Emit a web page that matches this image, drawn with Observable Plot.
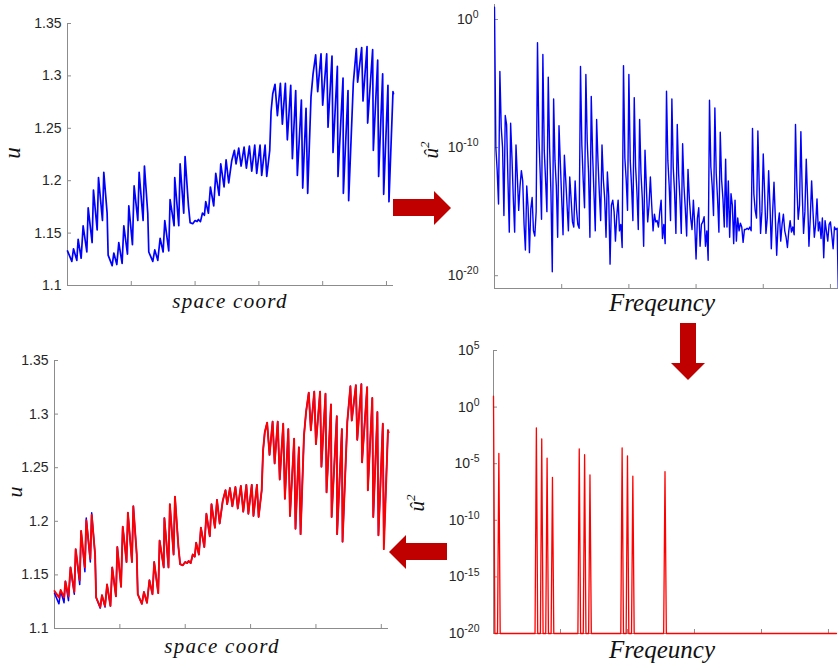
<!DOCTYPE html>
<html>
<head>
<meta charset="utf-8">
<script src="https://cdn.jsdelivr.net/npm/d3@7"></script>
<script src="https://cdn.jsdelivr.net/npm/@observablehq/plot@0.6"></script>
<style>
  html, body { margin: 0; padding: 0; background: #fff; }
  #fig { position: relative; width: 838px; height: 669px; overflow: hidden; background: #fff; }
  #fig > svg { position: absolute; }
  #overlay { pointer-events: none; }
</style>
</head>
<body>
<div id="fig"></div>
<script>
// ---------------- DATA ----------------
// vertices of u(space coord)
const spaceX = [0,6.8,9.4,14.6,16.7,21.4,24.5,30.3,32.4,38.6,40.7,46.5,48.6,54.8,56.9,62.1,63.7,70.0,72.6,77.3,80.4,85.6,88.3,94.0,96.1,101.8,104.4,110.2,112.3,118.5,120.6,125.8,127.4,133.7,136.8,141.5,145.2,149.9,152.5,158.7,160.8,167.1,168.1,174.4,176.5,182.2,184.3,189.6,192.2,196.3,200.0,203.1,205.2,208.4,211.5,214.6,216.7,220.9,224.0,229.2,232.4,237.6,240.2,245.4,248.6,252.7,257.4,261.6,264.2,268.4,272.1,276.8,280.4,285.1,288.8,293.5,296.6,301.8,304.4,309.7,312.3,317.0,319.1,321.7,325.3,329.0,333.7,336.8,341.5,344.6,349.9,352.5,357.7,360.3,366.6,368.7,373.9,376.5,381.7,384.9,389.0,392.2,397.4,400.0,406.3,408.4,414.6,416.2,423.0,424.0,431.9,432.4,439.7,440.7,448.0,452.7,454.8,461.1,463.2,469.5,470.5,478.3,479.4,486.2,487.7,494.0,495.6,502.3,503.9,510.2,511];
const uOriginal = [1.133,1.123,1.135,1.124,1.144,1.126,1.157,1.132,1.174,1.141,1.191,1.153,1.203,1.162,1.208,1.169,1.129,1.119,1.131,1.120,1.141,1.121,1.157,1.130,1.176,1.139,1.195,1.162,1.208,1.162,1.214,1.169,1.132,1.123,1.134,1.124,1.145,1.132,1.162,1.133,1.182,1.157,1.203,1.157,1.216,1.169,1.223,1.176,1.160,1.159,1.162,1.161,1.163,1.161,1.169,1.167,1.180,1.169,1.194,1.176,1.207,1.186,1.216,1.194,1.220,1.198,1.219,1.229,1.216,1.231,1.214,1.232,1.212,1.233,1.209,1.234,1.207,1.234,1.205,1.234,1.204,1.229,1.266,1.283,1.292,1.262,1.293,1.254,1.293,1.239,1.291,1.221,1.286,1.205,1.277,1.193,1.269,1.188,1.280,1.302,1.320,1.285,1.321,1.272,1.321,1.251,1.319,1.227,1.309,1.204,1.298,1.188,1.286,1.181,1.293,1.326,1.294,1.327,1.276,1.328,1.255,1.325,1.229,1.315,1.204,1.302,1.187,1.291,1.180,1.285,1.283];
const uReconstructed = [1.135,1.129,1.136,1.129,1.144,1.130,1.157,1.134,1.174,1.145,1.191,1.157,1.201,1.165,1.206,1.169,1.129,1.120,1.131,1.121,1.141,1.121,1.157,1.130,1.176,1.139,1.195,1.162,1.208,1.162,1.214,1.169,1.132,1.123,1.134,1.124,1.145,1.132,1.162,1.133,1.182,1.157,1.203,1.157,1.216,1.169,1.223,1.176,1.160,1.159,1.162,1.161,1.163,1.161,1.169,1.167,1.180,1.169,1.194,1.176,1.207,1.186,1.216,1.194,1.220,1.198,1.219,1.229,1.216,1.231,1.214,1.232,1.212,1.233,1.209,1.234,1.207,1.234,1.205,1.234,1.204,1.229,1.266,1.283,1.292,1.262,1.293,1.254,1.293,1.239,1.291,1.221,1.286,1.205,1.277,1.193,1.269,1.188,1.280,1.302,1.320,1.285,1.321,1.272,1.321,1.251,1.319,1.227,1.309,1.204,1.298,1.188,1.286,1.181,1.293,1.326,1.294,1.327,1.276,1.328,1.255,1.325,1.229,1.315,1.204,1.302,1.187,1.291,1.174,1.285,1.283];
const uTicks = [1.1, 1.15, 1.2, 1.25, 1.3, 1.35];
const spaceTicks = [100, 200, 300, 400, 500];

// log10 of the power spectrum u-hat^2, frequency 0..256
const spectrumLog10 = [
  0.96,-10,-11.8,-14.4,-4.06,-8.4,-10.0,-15.3,-7.5,-8.2,-12.5,-16.6,-8.1,-10.8,-14.0,-16.6,
  -9.8,-12.3,-14.9,-13.0,-11.8,-12.6,-16.0,-18.0,-13.0,-14.7,-18.2,-14.8,-13.9,-16.5,-16.9,-15.0,
  -1.82,-9.0,-12.0,-15.6,-2.73,-10.2,-12.5,-15.0,-4.5,-10.0,-13.5,-19.7,-6.2,-11.0,-13.0,-17.0,
  -8.3,-11.2,-14.0,-16.8,-10.6,-12.5,-14.5,-16.5,-12.3,-14.0,-15.8,-16.2,-12.6,-14.8,-16.0,-16.3,
  -3.67,-9.8,-12.5,-14.7,-4.3,-9.5,-12.0,-17.0,-6.0,-10.5,-13.5,-16.5,-7.8,-11.0,-13.5,-15.7,
  -9.8,-12.5,-14.0,-17.0,-11.9,-13.8,-19.1,-14.5,-14.1,-15.0,-17.3,-15.3,-14.1,-16.5,-16.0,-17.8,
  -3.6,-10.8,-12.5,-14.9,-4.3,-11.0,-13.0,-15.7,-6.1,-11.5,-13.5,-16.4,-7.8,-12.0,-14.0,-17.7,
  -10.2,-13.0,-15.8,-14.5,-12.3,-14.5,-16.5,-15.2,-15.8,-15.7,-16.2,-15.0,-14.1,-17.1,-16.0,-17.5,
  -5.6,-11.0,-13.0,-15.7,-6.2,-11.5,-13.5,-16.7,-8.2,-12.0,-14.0,-16.7,-9.7,-13.0,-14.8,-16.9,
  -11.7,-14.0,-15.5,-16.4,-14.1,-16.0,-18.7,-15.5,-14.7,-17.7,-16.0,-15.8,-15.4,-17.7,-16.5,-18.8,
  -6.3,-11.5,-13.0,-15.3,-6.9,-12.0,-14.0,-16.6,-8.8,-12.5,-14.0,-16.2,-10.9,-16.2,-12.6,-17.0,
  -13.6,-14.5,-17.5,-14.1,-17.3,-15.5,-16.5,-15.9,-16.2,-17.4,-16.4,-16.4,-16.3,-16.4,-16.2,-16.5,
  -8.5,-13.6,-14.9,-15.5,-8.7,-13.0,-16.7,-15.0,-10.5,-13.5,-16.7,-15.5,-11.8,-14.5,-17.9,-15.0,
  -12.7,-15.5,-18.4,-16.0,-15.1,-17.3,-16.0,-15.2,-16.5,-17.0,-17.8,-16.5,-15.7,-16.6,-16.2,-16.8,
  -8.2,-13.0,-15.6,-14.5,-8.75,-13.5,-16.7,-15.0,-10.9,-14.0,-17.7,-15.5,-12.6,-15.0,-17.0,-16.0,
  -14.0,-16.5,-15.8,-17.1,-15.5,-18.6,-15.7,-16.5,-17.3,-16.0,-15.8,-16.8,-17.9,-16.2,-16.4,-16.3,
  -22
];
// kept (truncated) modes and their log10 power; all other modes sit at the floor
const keptFreq   = [0, 4, 32, 36, 40, 44, 64, 68, 72, 96, 100, 104, 128];
const keptLog10  = [0.96, -4.1, -1.83, -2.8, -4.5, -6.2, -3.7, -4.2, -6.0, -3.6, -4.3, -6.1, -5.7];
const floorPower = 1e-20;
const freqTicks = [50, 100, 150, 200, 250];
const specTicksTop = [1, 1e-10, 1e-20];
const specTicksBottom = [1e5, 1, 1e-5, 1e-10, 1e-15, 1e-20];

// ---------------- TABLES ----------------
const uTable = spaceX.map((x, i) => ({x, u: uOriginal[i], ur: uReconstructed[i]}));
const specTable = spectrumLog10.map((v, f) => ({f, p: Math.pow(10, v)}));
const keptMap = new Map(keptFreq.map((f, i) => [f, Math.pow(10, keptLog10[i])]));
const truncTable = spectrumLog10.map((_, f) => ({f, p: keptMap.has(f) ? keptMap.get(f) : floorPower}));

// ---------------- STYLE ----------------
const axisColor = "#8c8c8c";
const textColor = "#262626";
const baseStyle = {fontFamily: "'Liberation Sans', Arial, sans-serif", fontSize: "14px", color: textColor, background: "transparent", overflow: "visible"};
const logFmt = d => "10^" + Math.round(Math.log10(d));
const ns = "http://www.w3.org/2000/svg";

function supify(svg) {
  svg.querySelectorAll("text").forEach(t => {
    const m = /^10\^(-?\d+)$/.exec(t.textContent.trim());
    if (!m) return;
    t.textContent = "";
    const a = document.createElementNS(ns, "tspan"); a.textContent = "10";
    const b = document.createElementNS(ns, "tspan"); b.textContent = m[1];
    b.setAttribute("dy", "-0.55em"); b.setAttribute("font-size", "10.5px");
    t.append(a, b);
  });
}

const fig = document.getElementById("fig");
function place(svg, left, top) {
  svg.style.left = left + "px"; svg.style.top = top + "px";
  fig.appendChild(svg);
}

// ---------------- PANEL 1: original signal ----------------
const p1 = Plot.plot({
  width: 400, height: 320,
  marginLeft: 67, marginRight: 7, marginTop: 23, marginBottom: 35,
  x: {domain: [0, 511]},
  y: {domain: [1.1, 1.35]},
  style: baseStyle,
  marks: [
    Plot.ruleX([0], {stroke: axisColor}),
    Plot.ruleY([1.1], {stroke: axisColor}),
    Plot.axisY({ticks: uTicks, tickFormat: d => String(d), tickSize: -4, tickPadding: 10, stroke: axisColor, label: null}),
    Plot.axisX({ticks: spaceTicks, tickFormat: () => "", tickSize: -4, stroke: axisColor, label: null}),
    Plot.line(uTable, {x: "x", y: "u", stroke: "#0000ff", strokeWidth: 1.7})
  ]
});
place(p1, 0, 0);

// ---------------- PANEL 2: full spectrum ----------------
const p2 = Plot.plot({
  width: 398, height: 320,
  marginLeft: 54, marginRight: 0, marginTop: 4, marginBottom: 32,
  x: {domain: [0, 256]},
  y: {type: "log", domain: [1e-21, Math.pow(10, 1.17)]},
  style: baseStyle,
  marks: [
    Plot.ruleX([0], {stroke: axisColor}),
    Plot.ruleY([1e-21], {stroke: axisColor}),
    Plot.axisY({ticks: specTicksTop, tickFormat: logFmt, tickSize: -4, tickPadding: 20, stroke: axisColor, label: null}),
    Plot.axisX({ticks: freqTicks, tickFormat: () => "", tickSize: -4, stroke: axisColor, label: null}),
    Plot.line(specTable, {x: "f", y: "p", stroke: "#0000ff", strokeWidth: 1.4, clip: true})
  ]
});
supify(p2);
place(p2, 440, 0);

// ---------------- PANEL 3: reconstruction ----------------
const p3 = Plot.plot({
  width: 420, height: 339,
  marginLeft: 54, marginRight: 32, marginTop: 30, marginBottom: 41,
  x: {domain: [0, 511]},
  y: {domain: [1.1, 1.35]},
  style: baseStyle,
  marks: [
    Plot.ruleX([0], {stroke: axisColor}),
    Plot.ruleY([1.1], {stroke: axisColor}),
    Plot.axisY({ticks: uTicks, tickFormat: d => String(d), tickSize: -4, tickPadding: 10, stroke: axisColor, label: null}),
    Plot.axisX({ticks: spaceTicks, tickFormat: () => "", tickSize: -4, stroke: axisColor, label: null}),
    Plot.line(uTable, {x: "x", y: "u", stroke: "#0000ff", strokeWidth: 1.5}),
    Plot.line(uTable, {x: "x", y: "ur", stroke: "#ff0000", strokeWidth: 1.9})
  ]
});
place(p3, 0, 330);

// ---------------- PANEL 4: truncated spectrum ----------------
const p4 = Plot.plot({
  width: 398, height: 339,
  marginLeft: 53, marginRight: 2, marginTop: 20, marginBottom: 36,
  x: {domain: [0, 256]},
  y: {type: "log", domain: [1e-20, 1e5]},
  style: baseStyle,
  marks: [
    Plot.ruleX([0], {stroke: axisColor}),
    Plot.ruleY([1e-20], {stroke: axisColor}),
    Plot.axisY({ticks: specTicksBottom, tickFormat: logFmt, tickSize: -4, tickPadding: 18, stroke: axisColor, label: null}),
    Plot.axisX({ticks: freqTicks, tickFormat: () => "", tickSize: -4, stroke: axisColor, label: null}),
    Plot.line(truncTable, {x: "f", y: "p", stroke: "#ff0000", strokeWidth: 1.3})
  ]
});
supify(p4);
place(p4, 440, 330);

// ---------------- OVERLAY: axis titles and arrows ----------------
const ov = document.createElementNS(ns, "svg");
ov.setAttribute("id", "overlay");
ov.setAttribute("width", 838); ov.setAttribute("height", 669);
ov.style.left = "0px"; ov.style.top = "0px";
ov.innerHTML = `
  <g fill="#c00000" stroke="none">
    <polygon points="393,199 434,199 434,191 451,208 434,225 434,216 393,216"/>
    <polygon points="447,543 406,543 406,535 389,552 406,569 406,560 447,560"/>
    <polygon points="680,323 696,323 696,363 705,363 688,380 671,363 680,363"/>
  </g>
  <g font-family="'Liberation Serif','Times New Roman',serif" font-style="italic" fill="#111">
    <text x="230" y="308" font-size="21" text-anchor="middle" letter-spacing="1.3">space coord</text>
    <text x="222" y="653" font-size="21" text-anchor="middle" letter-spacing="1.3">space coord</text>
    <text x="662" y="311" font-size="25" text-anchor="middle">Freqeuncy</text>
    <text x="662" y="658" font-size="25" text-anchor="middle">Freqeuncy</text>
    <text transform="translate(20,153) rotate(-90)" font-size="23" text-anchor="middle">u</text>
    <text transform="translate(22,492) rotate(-90)" font-size="22" text-anchor="middle">u</text>
    <text transform="translate(438,150) rotate(-90)" font-size="21" text-anchor="middle">û<tspan font-size="13" dy="-9">2</tspan></text>
    <text transform="translate(424,503) rotate(-90)" font-size="21" text-anchor="middle">û<tspan font-size="13" dy="-9">2</tspan></text>
  </g>`;
fig.appendChild(ov);
</script>
</body>
</html>
